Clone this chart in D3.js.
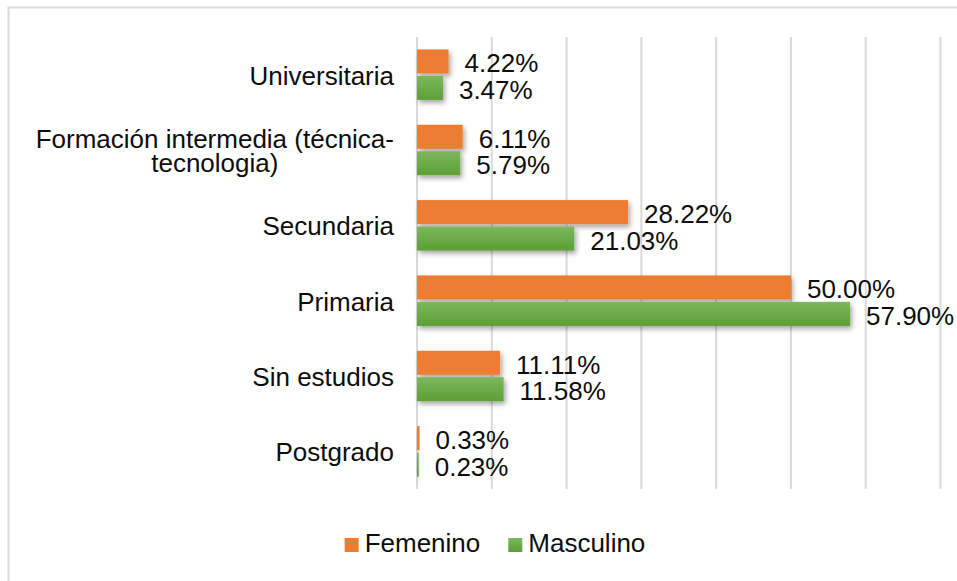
<!DOCTYPE html>
<html>
<head>
<meta charset="utf-8">
<script src="https://cdn.jsdelivr.net/npm/d3@7"></script>
<style>
  body { margin: 0; background: #fff; }
  text { font-family: "Liberation Sans", Arial, sans-serif; }
</style>
</head>
<body>
<div id="chart"></div>
<script>
// categories top to bottom, each label split into lines
const categories = [
    ["Universitaria"],
    ["Formación intermedia (técnica-", "tecnologia)"],
    ["Secundaria"],
    ["Primaria"],
    ["Sin estudios"],
    ["Postgrado"]
];
const seriesNames = ["Femenino", "Masculino"];
const femenino = [4.22, 6.11, 28.22, 50.00, 11.11, 0.33];
const masculino = [3.47, 5.79, 21.03, 57.90, 11.58, 0.23];
const xTicks = [0, 10, 20, 30, 40, 50, 60, 70];

const width = 957;
const height = 581;
const fontSize = 26;

const svg = d3.select("#chart")
    .append("svg")
    .attr("width", width)
    .attr("height", height);

//chart border, runs off the right and bottom like the original
svg.append("rect")
    .attr("x", 8.5)
    .attr("y", 7.5)
    .attr("width", 1000)
    .attr("height", 700)
    .attr("fill", "#fff")
    .attr("stroke", "#d9d9d9")
    .attr("stroke-width", 2);

const defs = svg.append("defs");

const shadow = defs.append("filter")
    .attr("id", "shadow")
    .attr("x", "-20%").attr("y", "-30%")
    .attr("width", "140%").attr("height", "180%");
shadow.append("feDropShadow")
    .attr("dx", 2)
    .attr("dy", 3)
    .attr("stdDeviation", 2.5)
    .attr("flood-color", "#000")
    .attr("flood-opacity", 0.35);

const greenGrad = defs.append("linearGradient")
    .attr("id", "greenGrad")
    .attr("x1", "0%").attr("y1", "0%")
    .attr("x2", "0%").attr("y2", "100%");
greenGrad.append("stop").attr("offset", "0%").attr("stop-color", "#7cb85e");
greenGrad.append("stop").attr("offset", "100%").attr("stop-color", "#5c9f34");

const fills = { "Femenino": "#ed7d31", "Masculino": "url(#greenGrad)" };

//scales
const x = d3.scaleLinear()
    .domain([0, 70])
    .range([417, 940.5]);

const y = d3.scaleBand()
    .domain(d3.range(categories.length))
    .range([37, 489]);

const ySub = d3.scaleBand()
    .domain(seriesNames)
    .range([y.bandwidth() * 0.165, y.bandwidth() * 0.835])
    .paddingInner(0.09);

//gridlines
svg.append("g")
    .selectAll("line")
    .data(xTicks)
    .enter()
    .append("line")
    .attr("x1", function(d) { return x(d); })
    .attr("x2", function(d) { return x(d); })
    .attr("y1", 37)
    .attr("y2", 489)
    .attr("stroke", "#d9d9d9")
    .attr("stroke-width", 2);

//build rows from arrays
const rows = [];
categories.forEach(function(c, i) {
    rows.push({ cat: i, series: "Femenino", value: femenino[i] });
    rows.push({ cat: i, series: "Masculino", value: masculino[i] });
});

//bars
svg.append("g")
    .selectAll("rect")
    .data(rows)
    .enter()
    .append("rect")
    .attr("x", x(0))
    .attr("y", function(d) { return y(d.cat) + ySub(d.series); })
    .attr("width", function(d) { return Math.max(x(d.value) - x(0), 1.5); })
    .attr("height", ySub.bandwidth())
    .attr("fill", function(d) { return fills[d.series]; })
    .attr("filter", "url(#shadow)");

//value labels
svg.append("g")
    .selectAll("text")
    .data(rows)
    .enter()
    .append("text")
    .attr("x", function(d) { return x(d.value) + 16; })
    .attr("y", function(d) { return y(d.cat) + ySub(d.series) + ySub.bandwidth() / 2 + 11; })
    .attr("font-size", fontSize)
    .attr("fill", "#0d0d0d")
    .text(function(d) { return d.value.toFixed(2) + "%"; });

//category labels, multi-line ones centred on each other
const labelRight = 394;
const lineGap = 24;
categories.forEach(function(lines, i) {
    const g = svg.append("g");
    const texts = lines.map(function(line) {
        return g.append("text")
            .attr("font-size", fontSize)
            .attr("fill", "#0d0d0d")
            .attr("text-anchor", "middle")
            .text(line);
    });
    const maxW = d3.max(texts, function(t) { return t.node().getComputedTextLength(); });
    const cy = y(i) + y.bandwidth() / 2;
    const firstBase = cy + 10 - (lines.length - 1) * lineGap / 2;
    texts.forEach(function(t, j) {
        t.attr("x", labelRight - maxW / 2)
         .attr("y", firstBase + j * lineGap);
    });
});

//legend
const legend = svg.append("g");
let lx = 0;
seriesNames.forEach(function(name, i) {
    legend.append("rect")
        .attr("x", lx)
        .attr("y", 538)
        .attr("width", 14)
        .attr("height", 14)
        .attr("fill", fills[name]);
    const t = legend.append("text")
        .attr("x", lx + 20)
        .attr("y", 552)
        .attr("font-size", fontSize)
        .attr("fill", "#0d0d0d")
        .text(name);
    lx += 20 + t.node().getComputedTextLength() + 28;
});
const legendW = lx - 28;
legend.attr("transform", "translate(" + (495 - legendW / 2) + ",0)");
</script>
</body>
</html>
